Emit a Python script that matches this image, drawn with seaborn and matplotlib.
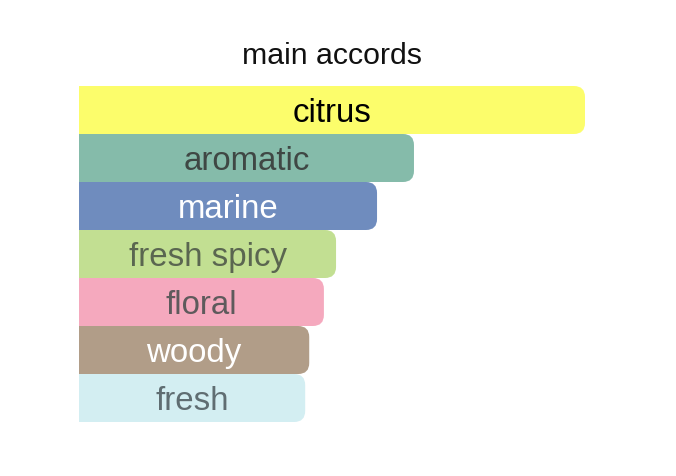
import matplotlib
matplotlib.use("Agg")
import matplotlib.pyplot as plt
from matplotlib.patches import FancyBboxPatch
import seaborn as sns
import pandas as pd

accords = ["citrus", "aromatic", "marine", "fresh spicy", "floral", "woody", "fresh"]
strength = [100, 66.2, 58.9, 50.8, 48.4, 45.5, 44.7]
bar_colors = ["#FCFD6B", "#85BBAA", "#6F8CBE", "#C2DF92", "#F5A9BE", "#B19D88", "#D3EEF2"]
text_colors = ["#000000", "#3F4744", "#FFFFFF", "#5A6650", "#5E5A5C", "#FFFFFF", "#5F6D72"]
title = "main accords"

sns.set_theme(style="white")
plt.rcParams["font.family"] = ["Liberation Sans", "DejaVu Sans"]

df = pd.DataFrame({"accord": accords, "strength": strength})

W, H = 676, 476
fig = plt.figure(figsize=(W / 100, H / 100), dpi=100)
ax = fig.add_axes([79 / W, (H - 422) / H, (585 - 79) / W, (422 - 86) / H])

sns.barplot(data=df, x="strength", y="accord", hue="accord", palette=bar_colors,
            orient="h", width=1.0, legend=False, ax=ax, saturation=1)

ax.set_xlim(0, 100)
ax.set_ylim(len(accords) - 0.5, -0.5)
ax.axis("off")

# rounded right corners
px_x = (585 - 79) / 100.0
px_y = 48.0
r_px = 11
for p in list(ax.patches):
    x0, y0, w, h = p.get_x(), p.get_y(), p.get_width(), p.get_height()
    fc = p.get_facecolor()
    p.remove()
    rb = FancyBboxPatch((x0 - 10, y0), w + 10, h,
                        boxstyle=f"round,pad=0,rounding_size={r_px / px_x}",
                        mutation_aspect=px_x / px_y,
                        facecolor=fc, edgecolor="none", clip_on=True)
    ax.add_patch(rb)

for i, (name, val) in enumerate(zip(accords, strength)):
    ax.text(val / 2, i + 0.08, name, ha="center", va="center",
            fontsize=23.8, color=text_colors[i])

fig.text((79 + 585) / 2 / W, 1 - 55.5 / H, title, ha="center", va="center",
         fontsize=21.8, color="#111111")

fig.savefig("out.png", dpi=100, facecolor="white")
